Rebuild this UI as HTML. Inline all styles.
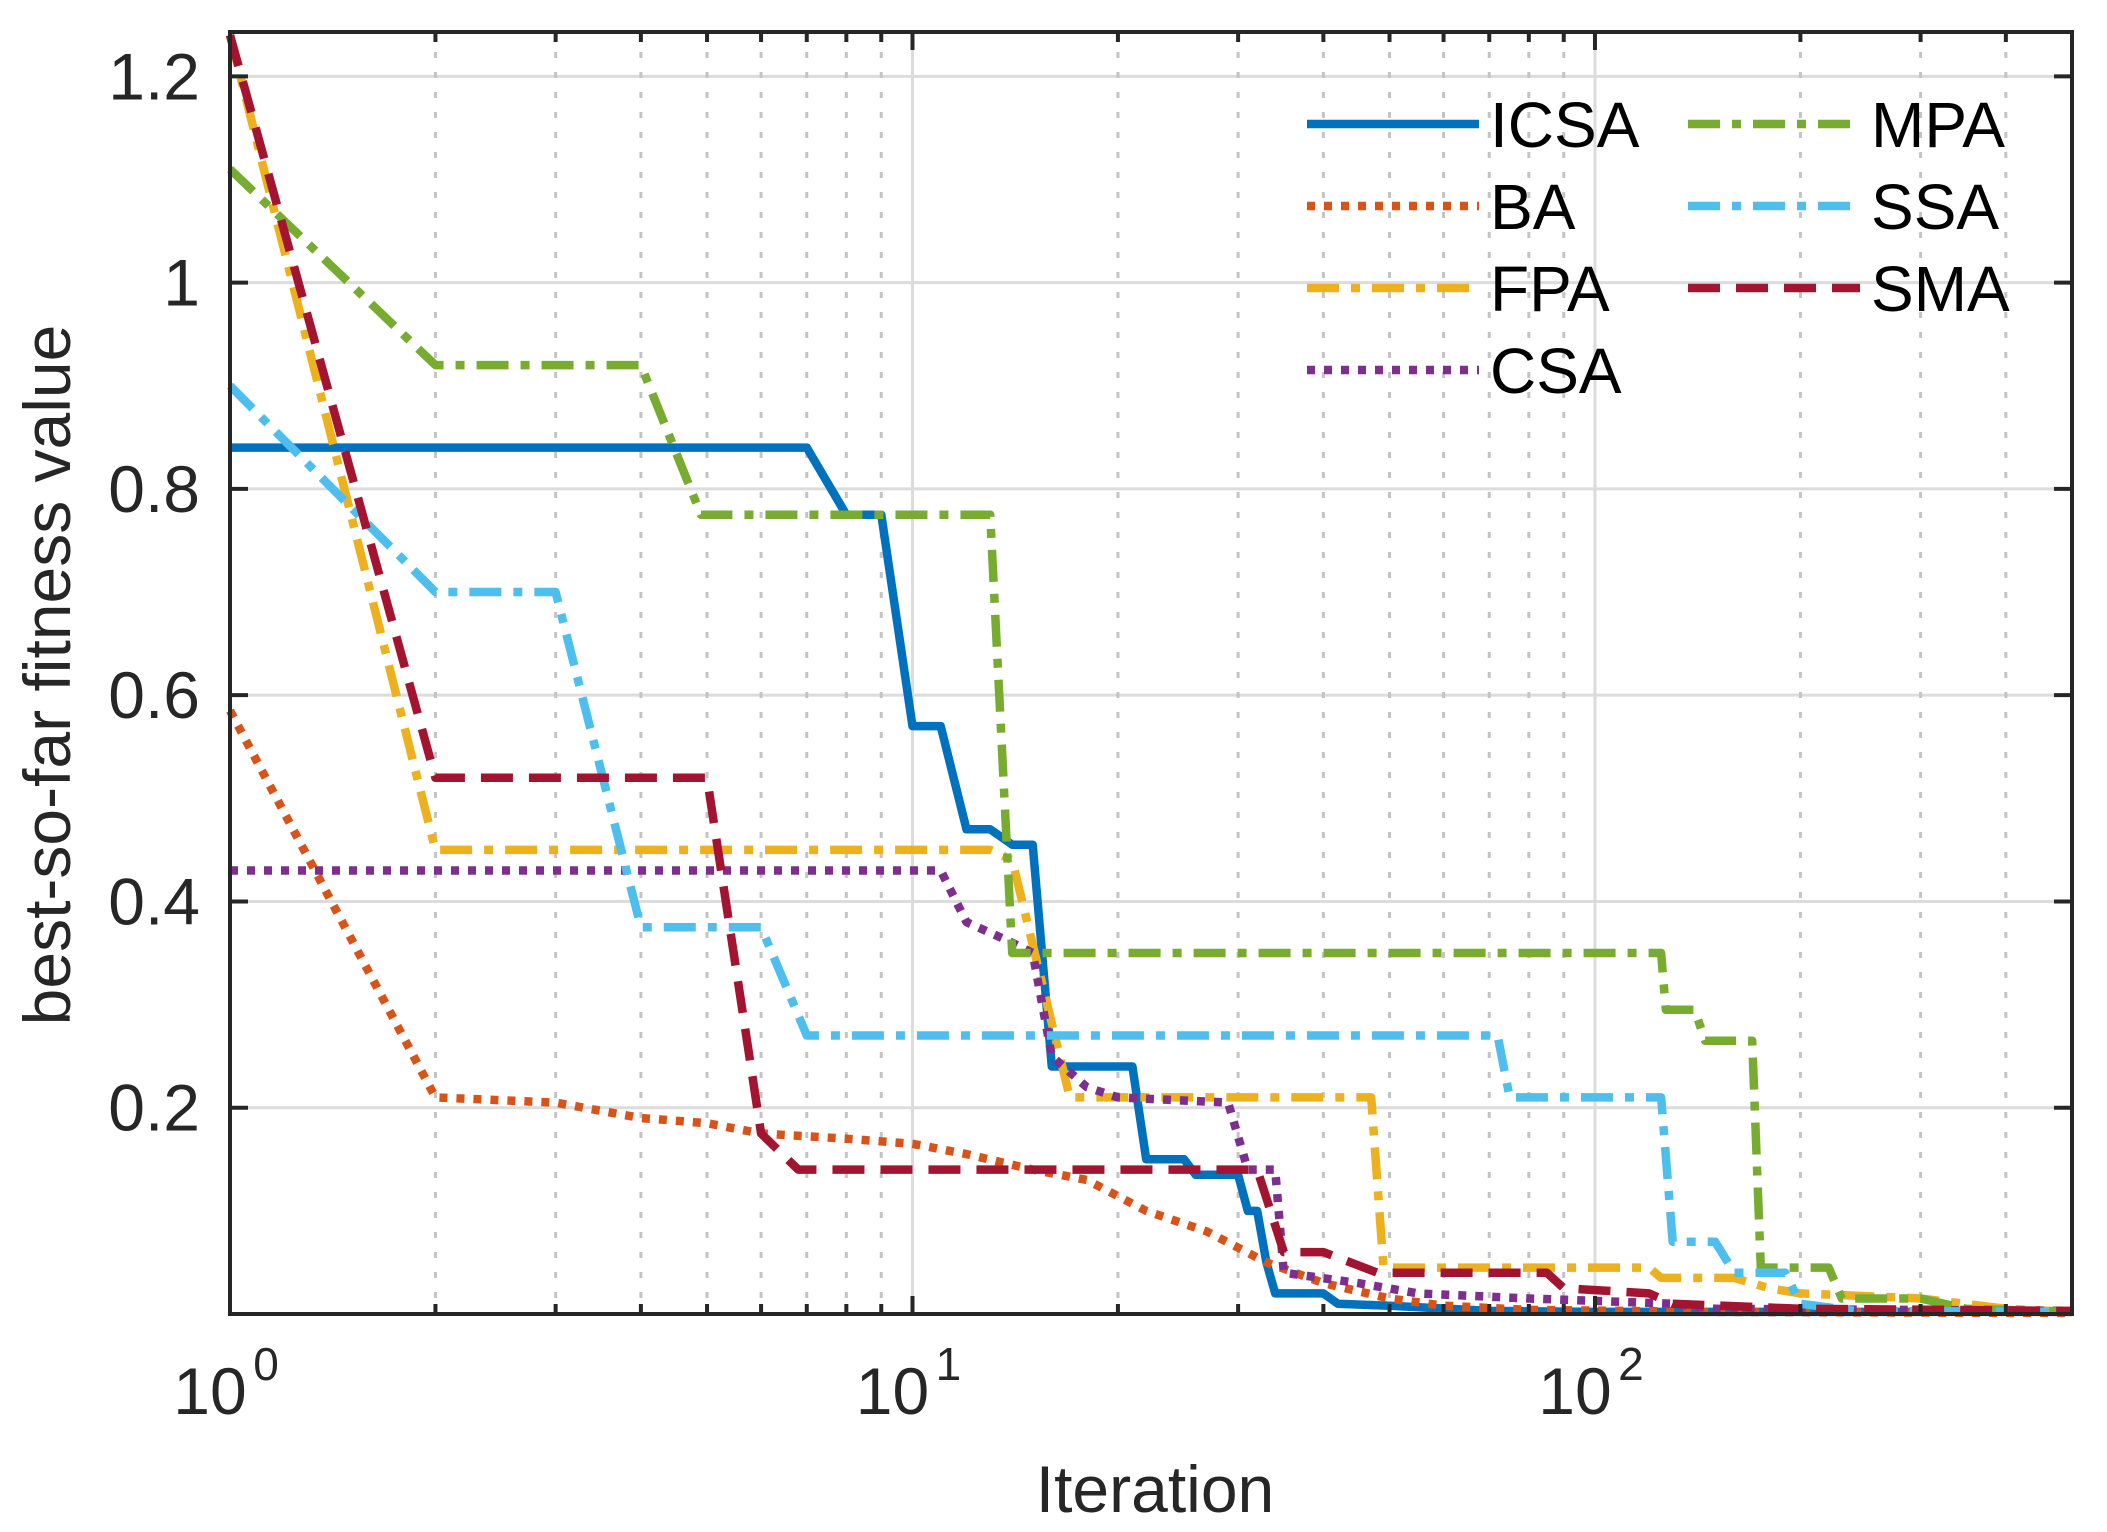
<!DOCTYPE html>
<html><head><meta charset="utf-8"><style>
html,body{margin:0;padding:0;background:#fff}
svg{display:block;font-family:"Liberation Sans",Arial,sans-serif}
</style></head><body>
<svg id="chart" width="2107" height="1532" viewBox="0 0 2107 1532" xmlns="http://www.w3.org/2000/svg">
<rect x="0" y="0" width="2107" height="1532" fill="#fff"/>
<g id="grid"></g>
<g id="series"></g>
<g id="axes"></g>
<text transform="translate(70,675) rotate(-90)" text-anchor="middle" font-size="66" fill="#262626">best-so-far fitness value</text>
<text x="1155" y="1512" text-anchor="middle" font-size="66" fill="#262626">Iteration</text>
<g id="legend"></g>
</svg>
<script>
const L=230,R=2072,T=32,B=1314;
const xMin=1,xMax=500,yMin=0,yMax=1.243;
const yTicks=[0.2,0.4,0.6,0.8,1,1.2];
const yTickLabels=["0.2","0.4","0.6","0.8","1","1.2"];
const xDecades=[1,10,100];
const xTickExp=["0","1","2"];
const names=["ICSA","BA","FPA","CSA","MPA","SSA","SMA"];
const icsaX=[1,7,8,9,10,11,12,13,14,15,16,21,22,25,26,30,31,32,33,34,40,42,50,70,100,500];
const icsaY=[0.84,0.84,0.775,0.775,0.57,0.57,0.47,0.47,0.455,0.455,0.24,0.24,0.15,0.15,0.135,0.135,0.10,0.10,0.05,0.02,0.02,0.01,0.008,0.003,0.002,0.002];
const baX=[1,2,3,4,5,6,8,10,12,15,18,22,27,33,40,50,60,80,150,500];
const baY=[0.585,0.21,0.205,0.19,0.185,0.175,0.17,0.165,0.155,0.14,0.13,0.10,0.08,0.05,0.03,0.015,0.008,0.004,0.002,0.001];
const fpaX=[1,2,13,14,17,47,49,120,125,160,180,200,300,400,500];
const fpaY=[1.24,0.45,0.45,0.44,0.21,0.21,0.045,0.045,0.035,0.035,0.025,0.02,0.015,0.005,0.002];
const csaX=[1,11,12,14,15,16,18,20,29,31,34,35,45,55,80,130,150,500];
const csaY=[0.43,0.43,0.38,0.36,0.35,0.25,0.22,0.21,0.205,0.14,0.14,0.04,0.03,0.02,0.015,0.01,0.005,0.003];
const mpaX=[1,2,4,4.9,13,14,125,127,140,145,170,175,220,230,300,350,500];
const mpaY=[1.11,0.92,0.92,0.775,0.775,0.35,0.35,0.295,0.295,0.265,0.265,0.045,0.045,0.015,0.015,0.005,0.002];
const ssaX=[1,2,3,4,6,7,72,75,125,130,150,160,190,200,240,500];
const ssaY=[0.90,0.70,0.70,0.375,0.375,0.27,0.27,0.21,0.21,0.07,0.07,0.04,0.04,0.01,0.003,0.002];
const smaX=[1,2,5,6,6.8,32,35,40,48,85,90,120,130,200,500];
const smaY=[1.24,0.52,0.52,0.175,0.14,0.14,0.06,0.06,0.04,0.04,0.025,0.02,0.01,0.005,0.003];
const seriesX=[icsaX,baX,fpaX,csaX,mpaX,ssaX,smaX];
const seriesY=[icsaY,baY,fpaY,csaY,mpaY,ssaY,smaY];
const colors=["#0072BD","#D95319","#EDB120","#7E2F8E","#77AC30","#4DBEEE","#A2142F"];
const dashes=["","8,9","32,12,9,12","8,9","32,12,9,12","32,12,9,12","32,16"];
const NS="http://www.w3.org/2000/svg";
function sx(v){return L+(Math.log10(v)-Math.log10(xMin))/(Math.log10(xMax)-Math.log10(xMin))*(R-L);}
function sy(v){return B-(v-yMin)/(yMax-yMin)*(B-T);}
function mk(tag,attrs,parent){const e=document.createElementNS(NS,tag);for(const k in attrs)e.setAttribute(k,attrs[k]);parent.appendChild(e);return e;}
const grid=document.getElementById('grid');
for(const v of yTicks){const l=mk('line',{x1:L,x2:R,y1:sy(v),y2:sy(v),stroke:'#dcdcdc','stroke-width':3},grid);

}
for(let d=1;d<=100;d*=10){for(let m=1;m<=9;m++){const v=d*m;if(v>xMax)break;const x=sx(v);
const major=m===1;const l=mk('line',{x1:x,x2:x,y1:T,y2:B,stroke:major?'#dcdcdc':'#c4c4c4','stroke-width':3,'stroke-dasharray':major?'':'6,14'},grid);

}}
const sg=document.getElementById('series');
for(let i=0;i<names.length;i++){const xs=seriesX[i],ys=seriesY[i];
const pts=xs.map((x,j)=>sx(x).toFixed(1)+','+sy(ys[j]).toFixed(1)).join(' ');
const p=mk('polyline',{points:pts,fill:'none',stroke:colors[i],'stroke-width':8.5,'stroke-dasharray':dashes[i],'stroke-linejoin':'round'},sg);

}
const ax=document.getElementById('axes');
const box=mk('rect',{x:L,y:T,width:R-L,height:B-T,fill:'none',stroke:'#262626','stroke-width':4},ax);


yTicks.forEach((v,i)=>{const y=sy(v);
mk('line',{x1:L,x2:L+18,y1:y,y2:y,stroke:'#262626','stroke-width':4},ax);
mk('line',{x1:R-18,x2:R,y1:y,y2:y,stroke:'#262626','stroke-width':4},ax);
const t=mk('text',{x:200,y:y+23,'text-anchor':'end','font-size':66,fill:'#262626'},ax);t.textContent=yTickLabels[i];

});
for(let d=1;d<=100;d*=10){for(let m=1;m<=9;m++){const v=d*m;if(v>xMax)break;const x=sx(v);const len=m===1?18:10;
mk('line',{x1:x,x2:x,y1:B,y2:B-len,stroke:'#262626','stroke-width':4},ax);
mk('line',{x1:x,x2:x,y1:T,y2:T+len,stroke:'#262626','stroke-width':4},ax);}}
xDecades.forEach((v,i)=>{const x=sx(v);
const t=mk('text',{x:x-20,y:1414,'text-anchor':'middle','font-size':66,fill:'#262626'},ax);t.textContent='10';


const e=mk('text',{x:x+36,y:1380,'text-anchor':'middle','font-size':46,fill:'#262626'},ax);e.textContent=xTickExp[i];

});
const lg=document.getElementById('legend');
const lx=[1307,1307,1307,1307,1688,1688,1688];
const lrow=[0,1,2,3,0,1,2];
for(let i=0;i<names.length;i++){const y=124+lrow[i]*82;const x=lx[i];
const g=mk('g',{},lg);


mk('line',{x1:x,x2:x+172,y1:y,y2:y,stroke:colors[i],'stroke-width':8.5,'stroke-dasharray':dashes[i]},g);
const t=mk('text',{x:x+183,y:y+23,'font-size':64,fill:'#000'},g);t.textContent=names[i];}
</script>
</body></html>
